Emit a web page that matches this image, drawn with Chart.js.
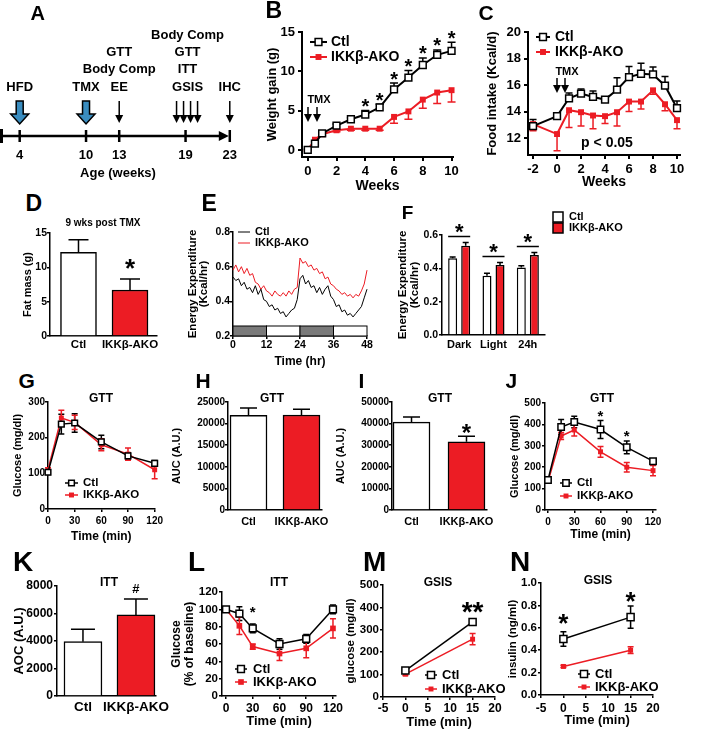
<!DOCTYPE html>
<html>
<head>
<meta charset="utf-8">
<title>IKKβ-AKO figure</title>
<script src="https://cdn.jsdelivr.net/npm/chart.js@4.4.1/dist/chart.umd.min.js"></script>
<style>
  html, body { margin: 0; padding: 0; background: #fff; }
  #fig { position: relative; width: 722px; height: 737px; overflow: hidden; background: #fff;
         font-family: Arial, "Liberation Sans", Helvetica, sans-serif; font-weight: bold; color: #000; }
  #fig canvas { position: absolute; }
  .lbl { position: absolute; line-height: 1; white-space: nowrap; }
</style>
</head>
<body>
<div id="fig"></div>
<script>
// ---------- data ----------
const groups = ['Ctl', 'IKKβ-AKO'];

// A: study timeline (age, weeks)
const aWeeks = [4, 10, 13, 19, 23];
const aEvents = [['HFD'], ['TMX'], ['GTT', 'Body Comp', 'EE'], ['Body Comp', 'GTT', 'ITT', 'GSIS'], ['IHC']];
const aArrows = ['block', 'block', 'thin', 'multi', 'thin'];

// B: weight gain (g)
const bWeeks = [0, 0.5, 1, 2, 3, 4, 5, 6, 7, 8, 9, 10];
const bCtl = [0, 0.8, 2.1, 3.1, 3.9, 4.5, 5.4, 7.7, 9.2, 10.8, 12.1, 12.6];
const bCtlErr = [0.1, 0.2, 0.2, 0.2, 0.2, 0.5, 0.4, 0.8, 0.9, 0.9, 0.6, 1.1];
const bAko = [0, 1.3, 2.0, 2.5, 2.7, 2.7, 2.7, 4.2, 4.9, 6.4, 7.3, 7.6];
const bAkoErr = [0.1, 0.2, 0.2, 0.2, 0.2, 0.2, 0.2, 0.8, 1.0, 1.1, 1.4, 1.5];
const bStars = [5, 6, 7, 8, 9, 10, 11];

// C: food intake (Kcal/d)
const cWeeks = [-2, 0, 1, 2, 3, 4, 5, 6, 7, 8, 9, 10];
const cCtl = [12.9, 13.65, 15.0, 15.35, 15.1, 14.9, 15.65, 16.6, 16.85, 16.8, 15.95, 14.25];
const cCtlErr = [0.5, 0.15, 0.4, 0.35, 0.45, 0.2, 0.9, 0.8, 0.8, 0.55, 0.7, 0.55];
const cAko = [13.05, 12.3, 14.1, 13.95, 13.7, 13.65, 13.95, 14.75, 14.75, 15.6, 14.55, 13.35];
const cAkoErr = [0.5, 1.25, 1.3, 1.05, 1.0, 0.55, 1.05, 0.75, 0.55, 0.3, 0.5, 0.65];

// D: fat mass (g), 9 wks post TMX
const dFat = [12.2, 6.7];
const dFatErr = [1.8, 1.6];

// E: energy expenditure (Kcal/hr) over 48 h
const eHours = [0,1,2,3,4,5,6,7,8,9,10,11,12,13,14,15,16,17,18,19,20,21,22,23,24,
                25,26,27,28,29,30,31,32,33,34,35,36,37,38,39,40,41,42,43,44,45,46,47,48];
const eCtl = [0.54,0.52,0.53,0.49,0.51,0.47,0.48,0.45,0.49,0.44,0.47,0.41,0.40,0.37,0.38,0.35,0.36,
              0.33,0.34,0.31,0.33,0.35,0.36,0.41,0.53,0.55,0.50,0.52,0.48,0.49,0.45,0.48,0.44,0.47,
              0.49,0.43,0.41,0.37,0.38,0.34,0.35,0.32,0.33,0.31,0.33,0.35,0.37,0.42,0.47];
const eAko = [0.58,0.61,0.57,0.60,0.56,0.59,0.55,0.56,0.51,0.50,0.47,0.49,0.46,0.45,0.43,0.46,0.44,
              0.43,0.45,0.43,0.46,0.44,0.47,0.48,0.65,0.62,0.63,0.60,0.61,0.58,0.59,0.56,0.57,0.53,
              0.54,0.50,0.49,0.47,0.46,0.44,0.45,0.43,0.44,0.42,0.44,0.43,0.46,0.50,0.58];
const ePhaseStart = [0, 12, 24, 36];
const ePhaseDark = [1, 0, 1, 0];
const ePhaseLen = 12;

// F: energy expenditure by phase
const fPhases = ['Dark', 'Light', '24h'];
const fCtl = [0.46, 0.355, 0.405];
const fCtlErr = [0.008, 0.015, 0.01];
const fAko = [0.535, 0.42, 0.48];
const fAkoErr = [0.02, 0.015, 0.015];

// G: GTT glucose (mg/dl), 13 weeks
const gTimes = [0, 15, 30, 60, 90, 120];
const gCtl = [103, 238, 241, 188, 149, 128];
const gCtlErr = [6, 28, 26, 19, 9, 8];
const gAko = [110, 255, 243, 180, 154, 110];
const gAkoErr = [6, 22, 20, 17, 17, 25];

// H, I: GTT AUC
const hAuc = [21900, 22000];
const hAucErr = [1700, 1300];
const iAuc = [40700, 31600];
const iAucErr = [2400, 2500];

// J: GTT glucose (mg/dl), 19 weeks
const jTimes = [0, 15, 30, 60, 90, 120];
const jCtl = [140, 388, 411, 376, 293, 228];
const jCtlErr = [8, 35, 27, 42, 30, 12];
const jAko = [133, 346, 374, 272, 200, 184];
const jAkoErr = [8, 16, 28, 25, 22, 24];

// K: ITT AOC
const kAoc = [3950, 5900];
const kAocErr = [900, 1150];

// L: ITT glucose (% of baseline)
const lTimes = [0, 15, 30, 60, 90, 120];
const lCtl = [100, 95, 78, 60, 66, 100];
const lCtlErr = [1, 8, 5, 6, 5, 5];
const lAko = [100, 81, 57, 49, 55, 78];
const lAkoErr = [1, 10, 3, 8, 11, 11];

// M, N: GSIS
const gsisTimes = [0, 15];
const mCtl = [118, 335];
const mCtlErr = [8, 12];
const mAko = [102, 258];
const mAkoErr = [6, 25];
const nCtl = [0.50, 0.695];
const nCtlErr = [0.065, 0.1];
const nAko = [0.255, 0.40];
const nAkoErr = [0.01, 0.03];

// ---------- drawing helpers ----------
const fig = document.getElementById('fig');
const RED = '#ec1c24';
const BLUE = '#3a8dc0';
const FONT = 'Arial, "Liberation Sans", Helvetica, sans-serif';
Chart.defaults.font.family = FONT;
Chart.defaults.font.weight = 'bold';
Chart.defaults.color = '#000';

const decoMap = new Map();

function txt(ctx, t, x, y, size, align, base) {
  ctx.font = `bold ${size}px ${FONT}`;
  ctx.textAlign = align || 'center';
  ctx.textBaseline = base || 'middle';
  ctx.fillStyle = '#000';
  ctx.fillText(t, x, y);
}
// draws * or # so that the glyph is centred on cy
function sym(ctx, t, x, cy, size) {
  const k = t.startsWith('#') ? 0.36 : 0.57;
  txt(ctx, t, x, cy + k * size, size, 'center', 'alphabetic');
}
function marker(ctx, ds, x, y) {
  const s = ds.pointRadius * Math.SQRT1_2;
  ctx.beginPath();
  ctx.rect(x - s, y - s, 2 * s, 2 * s);
  ctx.fillStyle = ds.pointBackgroundColor;
  ctx.fill();
  if (ds.pointBorderWidth > 0) {
    ctx.lineWidth = ds.pointBorderWidth;
    ctx.strokeStyle = ds.pointBorderColor;
    ctx.stroke();
  }
}
function thinArrow(ctx, x, y0, y1) {
  ctx.strokeStyle = '#000'; ctx.fillStyle = '#000'; ctx.lineWidth = 1.5;
  ctx.beginPath(); ctx.moveTo(x, y0); ctx.lineTo(x, y1 - 5); ctx.stroke();
  ctx.beginPath(); ctx.moveTo(x - 4, y1 - 8); ctx.lineTo(x + 4, y1 - 8); ctx.lineTo(x, y1); ctx.closePath(); ctx.fill();
}
function blockArrow(ctx, x, y0, y1) {
  ctx.beginPath();
  ctx.moveTo(x - 3.5, y0); ctx.lineTo(x + 3.5, y0); ctx.lineTo(x + 3.5, y1 - 10);
  ctx.lineTo(x + 9, y1 - 10); ctx.lineTo(x, y1); ctx.lineTo(x - 9, y1 - 10);
  ctx.lineTo(x - 3.5, y1 - 10); ctx.closePath();
  ctx.fillStyle = BLUE; ctx.fill();
  ctx.strokeStyle = '#000'; ctx.lineWidth = 1.5; ctx.stroke();
}
function yValue(v) { return typeof v === 'number' ? v : v.y; }
function errTop(chart, i, j) {
  const ds = chart.data.datasets[i];
  const ys = chart.scales[chart.getDatasetMeta(i).yAxisID];
  const v = yValue(ds.data[j]);
  const e = ds.err && ds.errDir !== 'down' ? ds.err[j] : 0;
  return ys.getPixelForValue(v + e);
}

const deco = {
  id: 'deco',
  beforeDatasetsDraw(chart) {
    const d = decoMap.get(chart.canvas);
    if (!d) return;
    const ctx = chart.ctx;
    ctx.save();
    if (d.phases) {
      const xs = chart.scales.x, ys = chart.scales.y;
      const yb = ys.getPixelForValue(ys.min);
      d.phases.start.forEach((s, k) => {
        const x0 = xs.getPixelForValue(s), x1 = xs.getPixelForValue(s + d.phases.len);
        ctx.fillStyle = d.phases.dark[k] ? '#7a7a7a' : '#fff';
        ctx.fillRect(x0, yb - d.phases.h, x1 - x0, d.phases.h);
        ctx.strokeStyle = '#000'; ctx.lineWidth = 1;
        ctx.strokeRect(x0, yb - d.phases.h, x1 - x0, d.phases.h);
      });
    }
    chart.data.datasets.forEach((ds, i) => {
      if (!ds.err) return;
      const meta = chart.getDatasetMeta(i);
      const ys = chart.scales[meta.yAxisID];
      // bar charts get black error bars, line series use their own colour
      ctx.strokeStyle = meta.type === 'bar' ? '#000' : ds.borderColor;
      ctx.lineWidth = 1.5;
      meta.data.forEach((el, j) => {
        const e = ds.err[j];
        if (!e) return;
        const v = yValue(ds.data[j]);
        const y0 = ys.getPixelForValue(v), half = ds.cap / 2;
        const ends = [];
        if (ds.errDir !== 'down') ends.push(ys.getPixelForValue(v + e));
        if (ds.errDir !== 'up') ends.push(ys.getPixelForValue(v - e));
        ends.forEach(y1 => {
          ctx.beginPath();
          ctx.moveTo(el.x, y0); ctx.lineTo(el.x, y1);
          ctx.moveTo(el.x - half, y1); ctx.lineTo(el.x + half, y1);
          ctx.stroke();
        });
      });
    });
    ctx.restore();
  },
  afterDatasetsDraw(chart) {
    const d = decoMap.get(chart.canvas);
    if (!d) return;
    const ctx = chart.ctx, ox = d.ox, oy = d.oy;
    ctx.save();
    (d.items || []).forEach(it => {
      if (it.type === 'text') {
        txt(ctx, it.t, it.x - ox, it.y - oy, it.size, it.align);
      } else if (it.type === 'arrow') {
        thinArrow(ctx, it.x - ox, it.y0 - oy, it.y1 - oy);
      } else if (it.type === 'mark') {
        const meta = chart.getDatasetMeta(it.ds);
        it.idx.forEach(j => sym(ctx, it.t, meta.data[j].x, errTop(chart, it.ds, j) - it.gap, it.size));
      } else if (it.type === 'legend') {
        chart.data.datasets.forEach((ds, i) => {
          const y = it.y - oy + i * it.dy, x = it.x - ox;
          ctx.strokeStyle = ds.borderColor; ctx.lineWidth = ds.borderWidth;
          ctx.beginPath(); ctx.moveTo(x, y); ctx.lineTo(x + it.len, y); ctx.stroke();
          if (ds.pointRadius) marker(ctx, ds, x + it.len / 2, y);
          txt(ctx, ds.label, it.tx - ox, y, it.size, 'left');
        });
      } else if (it.type === 'boxlegend') {
        chart.data.datasets.forEach((ds, i) => {
          const y = it.y - oy + i * it.dy, x = it.x - ox;
          ctx.fillStyle = ds.backgroundColor; ctx.fillRect(x, y, it.w, it.h);
          ctx.strokeStyle = '#000'; ctx.lineWidth = 1.5; ctx.strokeRect(x, y, it.w, it.h);
          txt(ctx, ds.label, it.tx - ox, y + it.h / 2, it.size, 'left');
        });
      } else if (it.type === 'sig') {
        const m0 = chart.getDatasetMeta(0), m1 = chart.getDatasetMeta(1);
        m0.data.forEach((b0, j) => {
          const b1 = m1.data[j];
          const x0 = b0.x - b0.width / 2, x1 = b1.x + b1.width / 2;
          const y = Math.min(errTop(chart, 0, j), errTop(chart, 1, j)) - it.gap;
          ctx.strokeStyle = '#000'; ctx.lineWidth = 1.5;
          ctx.beginPath(); ctx.moveTo(x0, y); ctx.lineTo(x1, y); ctx.stroke();
          sym(ctx, '*', (x0 + x1) / 2, y - it.sgap, it.size);
        });
      }
    });
    ctx.restore();
  }
};
Chart.register(deco);

function makeCanvas(left, top, w, h) {
  const c = document.createElement('canvas');
  c.width = w; c.height = h;
  Object.assign(c.style, { left: left + 'px', top: top + 'px', width: w + 'px', height: h + 'px' });
  fig.appendChild(c);
  return c;
}

// box = chart area in page pixels, pad = [y-axis width, top, right, x-axis height]
function panel(box, pad, cfg, extra) {
  const left = box[0] - pad[0], top = box[1] - pad[1];
  const w = box[2] - box[0] + pad[0] + pad[2], h = box[3] - box[1] + pad[1] + pad[3];
  const c = makeCanvas(left, top, w, h);
  decoMap.set(c, Object.assign({ ox: left, oy: top }, extra || {}));
  cfg.options = Object.assign({
    responsive: false, animation: false, events: [], devicePixelRatio: 1,
    layout: { padding: { left: 0, top: pad[1], right: pad[2], bottom: 0 } },
    plugins: { legend: { display: false }, tooltip: { enabled: false } }
  }, cfg.options);
  cfg.options.scales.x.position = 'bottom';
  cfg.options.scales.y.position = 'left';
  cfg.options.scales.x.afterFit = s => { s.height = pad[3]; };
  cfg.options.scales.y.afterFit = s => { s.width = pad[0]; };
  return new Chart(c, cfg);
}

function axis(o) {
  const ticks = { font: { size: o.size }, padding: o.pad, autoSkip: false, maxRotation: 0, minRotation: 0 };
  if (o.type !== 'category') {
    ticks.callback = o.names ? (v => o.names[v]) : (v => o.dec ? v.toFixed(o.dec) : String(v));
  }
  const a = {
    type: o.type || 'linear', bounds: 'data', offset: !!o.offset,
    ticks,
    grid: { drawOnChartArea: false, drawTicks: o.tl > 0, tickLength: o.tl || 0, color: '#000', lineWidth: o.lw, offset: !!o.offset },
    border: { color: '#000', width: o.lw },
    title: o.title ? { display: true, text: o.title, font: { size: o.tsize, lineHeight: o.tlh || 1.2 }, padding: { top: 2, bottom: 2 } } : { display: false }
  };
  if (o.min !== undefined) a.min = o.min;
  if (o.max !== undefined) a.max = o.max;
  if (o.ticks) a.afterBuildTicks = s => { s.ticks = o.ticks.map(v => ({ value: v })); };
  return a;
}

function series(label, xv, yv, err, dir, color, open, r, lw, cap) {
  return {
    label, data: yv.map((v, i) => ({ x: xv[i], y: v })), err, errDir: dir, cap,
    borderColor: color, backgroundColor: color, borderWidth: lw, tension: 0, clip: false,
    pointStyle: 'rect', pointRadius: r, pointBackgroundColor: open ? '#fff' : color,
    pointBorderColor: color, pointBorderWidth: open ? 1.5 : 0
  };
}
function trace(label, yv, color) {
  return { label, data: yv.map((v, i) => ({ x: eHours[i], y: v })), borderColor: color,
           borderWidth: 1, pointRadius: 0, tension: 0, clip: false };
}
function barDs(vals, err, thick, cap) {
  return { label: 'bars', data: vals.map((v, i) => ({ x: i, y: v })), err, errDir: 'up', cap,
           backgroundColor: ['#fff', RED], borderColor: '#000', borderWidth: 1.5,
           barThickness: thick, grouped: false };
}

function label(t, x, y, size, centred) {
  const d = document.createElement('div');
  d.className = 'lbl';
  d.textContent = t;
  d.style.fontSize = size + 'px';
  if (centred) {
    d.style.left = x + 'px'; d.style.top = y + 'px';
    d.style.transform = 'translate(-50%,-50%)';
  } else {
    d.style.left = (x - 0.07 * size) + 'px';
    d.style.top = (y - 0.13 * size) + 'px';
  }
  fig.appendChild(d);
}

// ---------- A: timeline ----------
const timeline = {
  id: 'timeline',
  afterDraw(chart) {
    const ctx = chart.ctx, xs = chart.scales.x, y = 136;
    const px = w => xs.getPixelForValue(w);
    const end = px(aWeeks[aWeeks.length - 1]);
    ctx.save();
    ctx.strokeStyle = '#000'; ctx.fillStyle = '#000';
    ctx.lineWidth = 2.5;
    ctx.beginPath(); ctx.moveTo(1, y); ctx.lineTo(end - 8, y); ctx.stroke();
    ctx.beginPath(); ctx.moveTo(end - 1, y); ctx.lineTo(end - 11, y - 5); ctx.lineTo(end - 11, y + 5); ctx.closePath(); ctx.fill();
    ctx.lineWidth = 3;
    ctx.beginPath(); ctx.moveTo(1.5, y - 7); ctx.lineTo(1.5, y + 7); ctx.stroke();
    aWeeks.forEach((w, i) => {
      const x = px(w);
      ctx.lineWidth = 2.5; ctx.strokeStyle = '#000';
      ctx.beginPath(); ctx.moveTo(x, y - 6); ctx.lineTo(x, y + 6); ctx.stroke();
      txt(ctx, String(w), x, 155, 13);
      const lines = aEvents[i];
      const cx = aArrows[i] === 'multi' ? x + 2 : x;
      lines.forEach((t, k) => txt(ctx, t, cx, 87 - (lines.length - 1 - k) * 17.3, 13));
      if (aArrows[i] === 'block') blockArrow(ctx, x, 101, 124);
      else if (aArrows[i] === 'thin') thinArrow(ctx, x, 101, 123);
      else [-9, -2, 5, 12].forEach(dx => thinArrow(ctx, x + dx, 101, 123));
    });
    txt(ctx, 'Age (weeks)', 118, 173, 13);
    ctx.restore();
  }
};
new Chart(makeCanvas(0, 0, 245, 185), {
  type: 'scatter', data: { datasets: [] },
  options: {
    responsive: false, animation: false, events: [], devicePixelRatio: 1,
    layout: { padding: { left: 2, right: 13, top: 0, bottom: 0 } },
    plugins: { legend: { display: false }, tooltip: { enabled: false } },
    scales: { x: { type: 'linear', display: false, min: 2.4, max: 23.2 }, y: { display: false, min: 0, max: 1 } }
  },
  plugins: [timeline]
});

// ---------- B ----------
panel([302, 32, 453, 157], [39, 20, 15, 40], {
  type: 'line',
  data: { datasets: [
    series('Ctl', bWeeks, bCtl, bCtlErr, 'up', '#000', true, 4.8, 2, 8),
    series('IKKβ-AKO', bWeeks, bAko, bAkoErr, 'down', RED, false, 4.2, 2, 8)] },
  options: { scales: {
    x: axis({ min: -0.4, max: 10.1, ticks: [0, 2, 4, 6, 8, 10], size: 13, tl: 4, pad: 3, lw: 2, title: 'Weeks', tsize: 14 }),
    y: axis({ min: -0.9, max: 15, ticks: [0, 5, 10, 15], size: 13, tl: 4, pad: 3, lw: 2, title: 'Weight gain (g)', tsize: 13 }) } }
}, { items: [
  { type: 'legend', x: 310, y: 42, dy: 15, len: 17, tx: 331, size: 14 },
  { type: 'text', t: 'TMX', x: 319, y: 100, size: 11 },
  { type: 'arrow', x: 308, y0: 107, y1: 122 }, { type: 'arrow', x: 317, y0: 107, y1: 122 },
  { type: 'mark', ds: 0, idx: bStars, t: '*', size: 20, gap: 9 }] });

// ---------- C ----------
panel([528, 32, 680, 155], [45, 20, 20, 38], {
  type: 'line',
  data: { datasets: [
    series('Ctl', cWeeks, cCtl, cCtlErr, 'up', '#000', true, 4.8, 2, 7),
    series('IKKβ-AKO', cWeeks, cAko, cAkoErr, 'down', RED, false, 4.2, 2, 7)] },
  options: { scales: {
    x: axis({ min: -2.42, max: 10.25, ticks: [-2, 0, 2, 4, 6, 8, 10], size: 13, tl: 4, pad: 3, lw: 2, title: 'Weeks', tsize: 14 }),
    y: axis({ min: 10.72, max: 20, ticks: [12, 14, 16, 18, 20], size: 13, tl: 4, pad: 3, lw: 2, title: 'Food intake (Kcal/d)', tsize: 13 }) } }
}, { items: [
  { type: 'legend', x: 536, y: 37, dy: 15, len: 14, tx: 555, size: 14 },
  { type: 'text', t: 'TMX', x: 567, y: 72, size: 11 },
  { type: 'arrow', x: 557, y0: 78, y1: 93 }, { type: 'arrow', x: 565, y0: 78, y1: 93 },
  { type: 'text', t: 'p < 0.05', x: 607, y: 143, size: 14 }] });

// ---------- D ----------
panel([50, 233, 157, 336], [31, 15, 8, 20], {
  type: 'bar',
  data: { datasets: [barDs(dFat, dFatErr, 36, 20)] },
  options: { scales: {
    x: axis({ min: -0.553, max: 1.524, ticks: [0, 1], names: groups, size: 11.5, tl: 0, pad: 2, lw: 1.5 }),
    y: axis({ min: 0, max: 15, ticks: [0, 5, 10, 15], size: 10.5, tl: 3, pad: 0, lw: 1.5, title: 'Fat mass (g)', tsize: 11 }) } }
}, { items: [{ type: 'mark', ds: 0, idx: [1], t: '*', size: 26, gap: 17 }] });

// ---------- E ----------
panel([233, 232, 367, 336], [48, 10, 10, 35], {
  type: 'line',
  data: { datasets: [trace('Ctl', eCtl, '#000'), trace('IKKβ-AKO', eAko, RED)] },
  options: { scales: {
    x: axis({ min: 0, max: 48, ticks: [0, 12, 24, 36, 48], size: 10.5, tl: 3, pad: 0, lw: 1.5, title: 'Time (hr)', tsize: 12 }),
    y: axis({ min: 0.2, max: 0.8, ticks: [0.2, 0.4, 0.6, 0.8], dec: 1, size: 10.5, tl: 3, pad: 0, lw: 1.5,
              title: ['Energy Expenditure', '(Kcal/hr)'], tsize: 11.5, tlh: 0.95 }) } }
}, { phases: { start: ePhaseStart, dark: ePhaseDark, len: ePhaseLen, h: 10 },
     items: [{ type: 'legend', x: 238, y: 232, dy: 11, len: 12, tx: 255, size: 11 }] });

// ---------- F ----------
panel([442, 235, 545, 335], [47, 28, 80, 20], {
  type: 'bar',
  data: { labels: fPhases, datasets: [
    { label: 'Ctl', data: fCtl, err: fCtlErr, errDir: 'up', cap: 6, backgroundColor: '#fff', borderColor: '#000',
      borderWidth: 1.5, categoryPercentage: 0.76, barPercentage: 0.69 },
    { label: 'IKKβ-AKO', data: fAko, err: fAkoErr, errDir: 'up', cap: 6, backgroundColor: RED, borderColor: '#000',
      borderWidth: 1.5, categoryPercentage: 0.76, barPercentage: 0.69 }] },
  options: { scales: {
    x: axis({ type: 'category', offset: true, size: 11, tl: 0, pad: 3, lw: 1.5 }),
    y: axis({ min: 0, max: 0.6, ticks: [0, 0.2, 0.4, 0.6], dec: 1, size: 10.5, tl: 3, pad: 1, lw: 1.5,
              title: ['Energy Expenditure', '(Kcal/hr)'], tsize: 11.5, tlh: 1.05 }) } }
}, { items: [{ type: 'sig', gap: 6, sgap: 10, size: 22 },
             { type: 'boxlegend', x: 553, y: 212, dy: 11, w: 10, h: 10, tx: 569, size: 11 }] });

// ---------- G ----------
panel([48, 402, 156, 509], [39, 8, 10, 37], {
  type: 'line',
  data: { datasets: [
    series('Ctl', gTimes, gCtl, gCtlErr, 'both', '#000', true, 4, 1.5, 6),
    series('IKKβ-AKO', gTimes, gAko, gAkoErr, 'both', RED, false, 3.5, 1.5, 6)] },
  options: { scales: {
    x: axis({ min: 0, max: 120, ticks: [0, 30, 60, 90, 120], size: 10, tl: 3, pad: 3, lw: 1.5, title: 'Time (min)', tsize: 12 }),
    y: axis({ min: 0, max: 300, ticks: [0, 100, 200, 300], size: 10, tl: 3, pad: 0, lw: 1.5, title: 'Glucose (mg/dl)', tsize: 11 }) } }
}, { items: [{ type: 'legend', x: 65, y: 483, dy: 12, len: 13, tx: 83, size: 11.5 }] });

// ---------- H ----------
panel([228, 402, 322, 510], [60, 8, 15, 22], {
  type: 'bar',
  data: { datasets: [barDs(hAuc, hAucErr, 37, 17)] },
  options: { scales: {
    x: axis({ min: -0.387, max: 1.387, ticks: [0, 1], names: groups, size: 11, tl: 0, pad: 5, lw: 1.5 }),
    y: axis({ min: 0, max: 25000, ticks: [0, 5000, 10000, 15000, 20000, 25000], size: 10, tl: 3, pad: 0, lw: 1.5, title: 'AUC (A.U.)', tsize: 11 }) } }
}, {});

// ---------- I ----------
panel([392, 402, 487, 510], [60, 8, 15, 22], {
  type: 'bar',
  data: { datasets: [barDs(iAuc, iAucErr, 37, 17)] },
  options: { scales: {
    x: axis({ min: -0.355, max: 1.373, ticks: [0, 1], names: groups, size: 11, tl: 0, pad: 5, lw: 1.5 }),
    y: axis({ min: 0, max: 50000, ticks: [0, 10000, 20000, 30000, 40000, 50000], size: 10, tl: 3, pad: 0, lw: 1.5, title: 'AUC (A.U.)', tsize: 11 }) } }
}, { items: [{ type: 'mark', ds: 0, idx: [1], t: '*', size: 24, gap: 9 }] });

// ---------- J ----------
panel([545, 403, 656, 510], [39, 8, 15, 34], {
  type: 'line',
  data: { datasets: [
    series('Ctl', jTimes, jCtl, jCtlErr, 'both', '#000', true, 4.5, 1.5, 6),
    series('IKKβ-AKO', jTimes, jAko, jAkoErr, 'both', RED, false, 3.5, 1.5, 6)] },
  options: { scales: {
    x: axis({ min: -3.43, max: 123.4, ticks: [0, 30, 60, 90, 120], size: 10, tl: 3, pad: 3, lw: 1.5, title: 'Time (min)', tsize: 12 }),
    y: axis({ min: 0, max: 500, ticks: [0, 100, 200, 300, 400, 500], size: 10, tl: 3, pad: 1, lw: 1.5, title: 'Glucose (mg/dl)', tsize: 11 }) } }
}, { items: [{ type: 'legend', x: 560, y: 483, dy: 13, len: 12, tx: 577, size: 11.5 },
             { type: 'mark', ds: 0, idx: [3, 4], t: '*', size: 15, gap: 8 }] });

// ---------- K ----------
panel([57, 586, 160, 696], [47, 15, 15, 25], {
  type: 'bar',
  data: { datasets: [barDs(kAoc, kAocErr, 38, 24)] },
  options: { scales: {
    x: axis({ min: -0.49, max: 1.38, ticks: [0, 1], names: groups, size: 13.5, tl: 0, pad: 3, lw: 1.5 }),
    y: axis({ min: 0, max: 8000, ticks: [0, 2000, 4000, 6000, 8000], size: 12, tl: 3, pad: 1, lw: 1.5, title: 'AOC (A.U.)', tsize: 13 }) } }
}, { items: [{ type: 'mark', ds: 0, idx: [1], t: '#', size: 13, gap: 11 }] });

// ---------- L ----------
panel([222, 592, 336, 696], [54, 10, 12, 35], {
  type: 'line',
  data: { datasets: [
    series('Ctl', lTimes, lCtl, lCtlErr, 'both', '#000', true, 4.8, 1.5, 6),
    series('IKKβ-AKO', lTimes, lAko, lAkoErr, 'both', RED, false, 4, 1.5, 6)] },
  options: { scales: {
    x: axis({ min: -4.5, max: 123.4, ticks: [0, 30, 60, 90, 120], size: 12, tl: 3, pad: 2, lw: 1.5, title: 'Time (min)', tsize: 13 }),
    y: axis({ min: 0, max: 120, ticks: [0, 20, 40, 60, 80, 100, 120], size: 11.5, tl: 3, pad: 1, lw: 1.5,
              title: ['Glucose', '(% of baseline)'], tsize: 12, tlh: 1.1 }) } }
}, { items: [{ type: 'legend', x: 235, y: 669, dy: 13, len: 12, tx: 253, size: 13 },
             { type: 'mark', ds: 0, idx: [2], t: '*', size: 15, gap: 16 }] });

// ---------- M ----------
panel([383, 585, 495, 697], [41, 25, 12, 35], {
  type: 'line',
  data: { datasets: [
    series('Ctl', gsisTimes, mCtl, mCtlErr, 'both', '#000', true, 5, 1.5, 6),
    series('IKKβ-AKO', gsisTimes, mAko, mAkoErr, 'both', RED, false, 3.5, 1.5, 6)] },
  options: { scales: {
    x: axis({ min: -5, max: 20, ticks: [-5, 0, 5, 10, 15, 20], size: 12, tl: 3, pad: 1, lw: 1.5, title: 'Time (min)', tsize: 13 }),
    y: axis({ min: 0, max: 500, ticks: [0, 100, 200, 300, 400, 500], size: 11.5, tl: 3, pad: 1, lw: 1.5, title: 'glucose (mg/dl)', tsize: 11.5 }) } }
}, { items: [{ type: 'legend', x: 425, y: 675, dy: 14, len: 12, tx: 442, size: 13 },
             { type: 'mark', ds: 0, idx: [1], t: '**', size: 28, gap: 14 }] });

// ---------- N ----------
panel([541, 583, 653, 695], [37, 25, 12, 35], {
  type: 'line',
  data: { datasets: [
    series('Ctl', gsisTimes, nCtl, nCtlErr, 'both', '#000', true, 5, 1.5, 6),
    series('IKKβ-AKO', gsisTimes, nAko, nAkoErr, 'both', RED, false, 3.5, 1.5, 6)] },
  options: { scales: {
    x: axis({ min: -5, max: 20, ticks: [-5, 0, 5, 10, 15, 20], size: 12, tl: 3, pad: 3, lw: 1.5, title: 'Time (min)', tsize: 13 }),
    y: axis({ min: 0, max: 1.0, ticks: [0, 0.2, 0.4, 0.6, 0.8, 1.0], dec: 1, size: 11.5, tl: 3, pad: 1, lw: 1.5, title: 'insulin (ng/ml)', tsize: 11.5 }) } }
}, { items: [{ type: 'legend', x: 578, y: 674, dy: 13, len: 12, tx: 595, size: 13 },
             { type: 'mark', ds: 0, idx: [0], t: '*', size: 26, gap: 15 },
             { type: 'mark', ds: 0, idx: [1], t: '*', size: 26, gap: 11 }] });

// ---------- panel letters and titles ----------
[['A', 32, 6, 20], ['B', 267, 2, 23], ['C', 480, 5, 21], ['D', 27, 195, 23], ['E', 203, 195, 23], ['F', 403, 205, 19],
 ['G', 20, 373, 21], ['H', 197, 373, 21], ['I', 360, 373, 21], ['J', 507, 373, 21],
 ['K', 15, 552, 28], ['L', 190, 552, 28], ['M', 365, 552, 28], ['N', 512, 552, 28]]
  .forEach(l => label(l[0], l[1], l[2], l[3], false));
[['9 wks post TMX', 103, 223, 10], ['GTT', 101, 398, 12], ['GTT', 272, 398, 12], ['GTT', 440, 398, 12], ['GTT', 602, 398, 12],
 ['ITT', 109, 582, 12], ['ITT', 279, 582, 12], ['GSIS', 438, 582, 12], ['GSIS', 598, 580, 12]]
  .forEach(l => label(l[0], l[1], l[2], l[3], true));
</script>
</body>
</html>
